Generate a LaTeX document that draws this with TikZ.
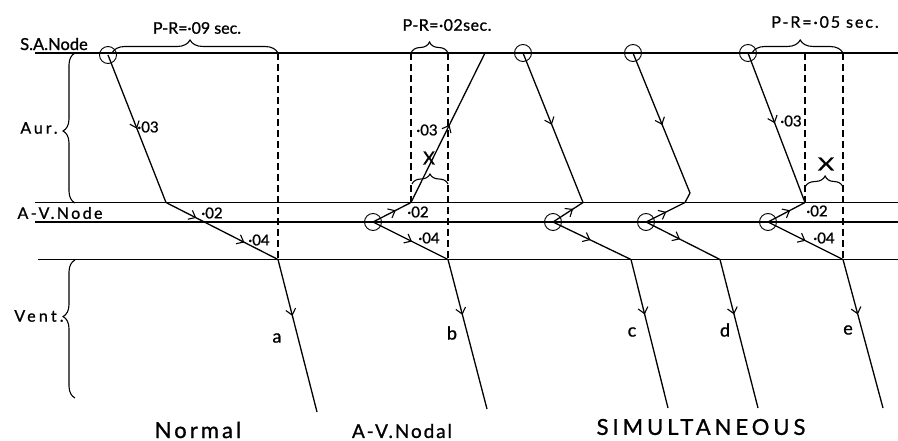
\documentclass[tikz,border=0pt]{standalone}
\usepackage{fontspec}
\setmainfont{Lato}[FakeBold=1.0]
\usetikzlibrary{decorations.pathreplacing,decorations.markings,arrows.meta}
\newcommand\labtxt[3]{{\fontsize{#1}{#1}\selectfont\addfontfeatures{LetterSpace=#2}#3}}
\begin{document}
\begin{tikzpicture}[x=1pt,y=-1pt,line width=1.3pt,
  every node/.style={inner sep=0pt,outer sep=0pt},
  knot/.style={circle,draw,minimum size=17pt,line width=0.9pt},
  dashline/.style={dash pattern=on 7pt off 4pt,line width=1.1pt},
  curly/.style={decorate,line width=1.1pt},
  arr/.style={postaction={decorate},decoration={markings,mark=at position #1 with {\arrow{Straight Barb[length=6pt,width=10pt,line width=1.1pt]}}}},
  arrtwo/.style 2 args={postaction={decorate},decoration={markings,
     mark=at position #1 with {\arrow{Straight Barb[length=6pt,width=10pt,line width=1.1pt]}},
     mark=at position #2 with {\arrow{Straight Barb[length=6pt,width=10pt,line width=1.1pt]}}}},
  num/.style={font=\fontsize{15}{15}\selectfont},
  letter/.style={font=\fontsize{18}{18}\selectfont},
]
\useasboundingbox (0,0) rectangle (898,441);

% horizontal lines
\coordinate (saL) at (35,53);   \coordinate (saR) at (898,53);
\coordinate (avtL) at (35,202.5); \coordinate (avtR) at (898,202.5);
\coordinate (avbL) at (35,222); \coordinate (avbR) at (898,222);
\coordinate (vL) at (38,259.5); \coordinate (vR) at (898,259.5);
\draw (saL) -- (saR);
\draw (avtL) -- (avtR);
\draw (avbL) -- (avbR);
\draw (vL) -- (vR);

% left labels and braces
\node (tSA) at (54,44) {\labtxt{16.5}{0}{S.A.Node}};
\node (tAur) at (39,128) {\labtxt{16}{18}{Aur.}};
\node (tAV) at (60,213) {\labtxt{16}{15}{A-V.Node}};
\node (tVent) at (39,316) {\labtxt{16}{20}{Vent.}};
\coordinate (bAurB) at (75,203); \coordinate (bAurT) at (75,53);
\draw[curly,decoration={brace,amplitude=12pt,aspect=0.48}] (bAurB) -- (bAurT);
\coordinate (bVenB) at (75,398); \coordinate (bVenT) at (75,260);
\draw[curly,decoration={brace,amplitude=12pt,aspect=0.59}] (bVenB) -- (bVenT);

% ---- trace a (Normal)
\node[knot] (sa1) at (108,55) {};
\coordinate (av1) at (166,202.5);
\coordinate (v1) at (278,259.5);
\coordinate (e1) at (317,412);
\coordinate (d1t) at (278,53);
\coordinate (b1s) at (112,53);
\draw[arr=0.5] (sa1.center) -- (av1);
\draw[arrtwo={0.27}{0.7}] (av1) -- (v1);
\draw[arr=0.37] (v1) -- (e1);
\draw[dashline] (d1t) -- (v1);
\draw[curly,decoration={brace,amplitude=13pt,aspect=0.47}] (b1s) -- (d1t);
\node[num] (n1a) at (148,127) {·03};
\node[num] (n1b) at (212,213) {·02};
\node[num] (n1c) at (259,240) {·04};
\node[letter] (la) at (277,338) {a};
\node (pr1) at (197,28) {\labtxt{16}{0}{P-R=·09 sec.}};

% ---- trace b (A-V nodal)
\node[knot] (av2) at (373,222) {};
\coordinate (j2) at (411,202.5);
\coordinate (sa2) at (485,53);
\coordinate (v2) at (448,259.5);
\coordinate (e2) at (487,409);
\coordinate (d2a) at (411,53);
\coordinate (d2b) at (448,53);
\draw[arr=0.6] (av2.center) -- (j2);
\draw[arr=0.52] (j2) -- (sa2);
\draw[arr=0.52] (av2.center) -- (v2);
\draw[arr=0.37] (v2) -- (e2);
\draw[dashline] (d2a) -- (j2);
\draw[dashline] (d2b) -- (v2);
\draw[curly,decoration={brace,amplitude=11pt,aspect=0.5}] (d2a) -- (d2b);
\coordinate (x2a) at (412,184); \coordinate (x2b) at (448,184);
\draw[curly,decoration={brace,amplitude=10pt,aspect=0.5}] (x2a) -- (x2b);
\node[letter] (x2) at (429,158) {X};
\node[num] (n2a) at (427,130) {·03};
\node[num] (n2b) at (418,212) {·02};
\node[num] (n2c) at (429,238) {·04};
\node[letter] (lb) at (452,333) {b};
\node (pr2) at (447,25) {\labtxt{16}{3}{P-R=·02sec.}};

% ---- trace c
\node[knot] (sa3) at (523,53) {};
\coordinate (j3) at (583,202.5);
\node[knot] (av3) at (553,222) {};
\coordinate (v3) at (631,259.5);
\coordinate (e3) at (668,408);
\draw[arr=0.48] (sa3.center) -- (j3);
\draw[arr=0.67] (av3.center) -- (j3);
\draw[arr=0.48] (av3.center) -- (v3);
\draw[arr=0.37] (v3) -- (e3);
\node[letter] (lc) at (632,332) {c};

% ---- trace d
\node[knot] (sa4) at (633,53) {};
\coordinate (k4) at (690,193);
\coordinate (j4) at (685,202.5);
\node[knot] (av4) at (646,222) {};
\coordinate (v4) at (720,259.5);
\coordinate (e4) at (758,408);
\draw[arr=0.48] (sa4.center) -- (k4) -- (j4);
\draw[arr=0.52] (av4.center) -- (j4);
\draw[arr=0.46] (av4.center) -- (v4);
\draw[arr=0.37] (v4) -- (e4);
\node[letter] (ld) at (725,330) {d};

% ---- trace e
\node[knot] (sa5) at (748,53) {};
\coordinate (j5) at (805,202.5);
\node[knot] (av5) at (768,222) {};
\coordinate (v5) at (843,259.5);
\coordinate (e5) at (883,408);
\coordinate (d5a) at (805,53);
\coordinate (d5b) at (843,53);
\coordinate (b5s) at (752,53);
\draw[arr=0.47] (sa5.center) -- (j5);
\draw[arr=0.6] (av5.center) -- (j5);
\draw[arr=0.5] (av5.center) -- (v5);
\draw[arr=0.37] (v5) -- (e5);
\draw[dashline] (d5a) -- (j5);
\draw[dashline] (d5b) -- (v5);
\draw[curly,decoration={brace,amplitude=13pt,aspect=0.53}] (b5s) -- (d5b);
\coordinate (x5a) at (805,187); \coordinate (x5b) at (843,187);
\draw[curly,decoration={brace,amplitude=11pt,aspect=0.53}] (x5a) -- (x5b);
\node[letter] (x5) at (826,164) {\scalebox{1.4}[1]{X}};
\node[num] (n5a) at (791,121) {·03};
\node[num] (n5b) at (817,211) {·02};
\node[num] (n5c) at (824,238) {·04};
\node[letter] (le) at (848,330) {e};
\node (pr5) at (825,22) {\labtxt{16}{12}{P-R=·05 sec.}};

% bottom captions
\node (cN) at (198,430) {\labtxt{22}{14}{Normal}};
\node (cAV) at (402,431) {\labtxt{19}{10}{A-V.Nodal}};
\node (cS) at (701,427) {\labtxt{22}{18}{SIMULTANEOUS}};
\end{tikzpicture}
\end{document}
